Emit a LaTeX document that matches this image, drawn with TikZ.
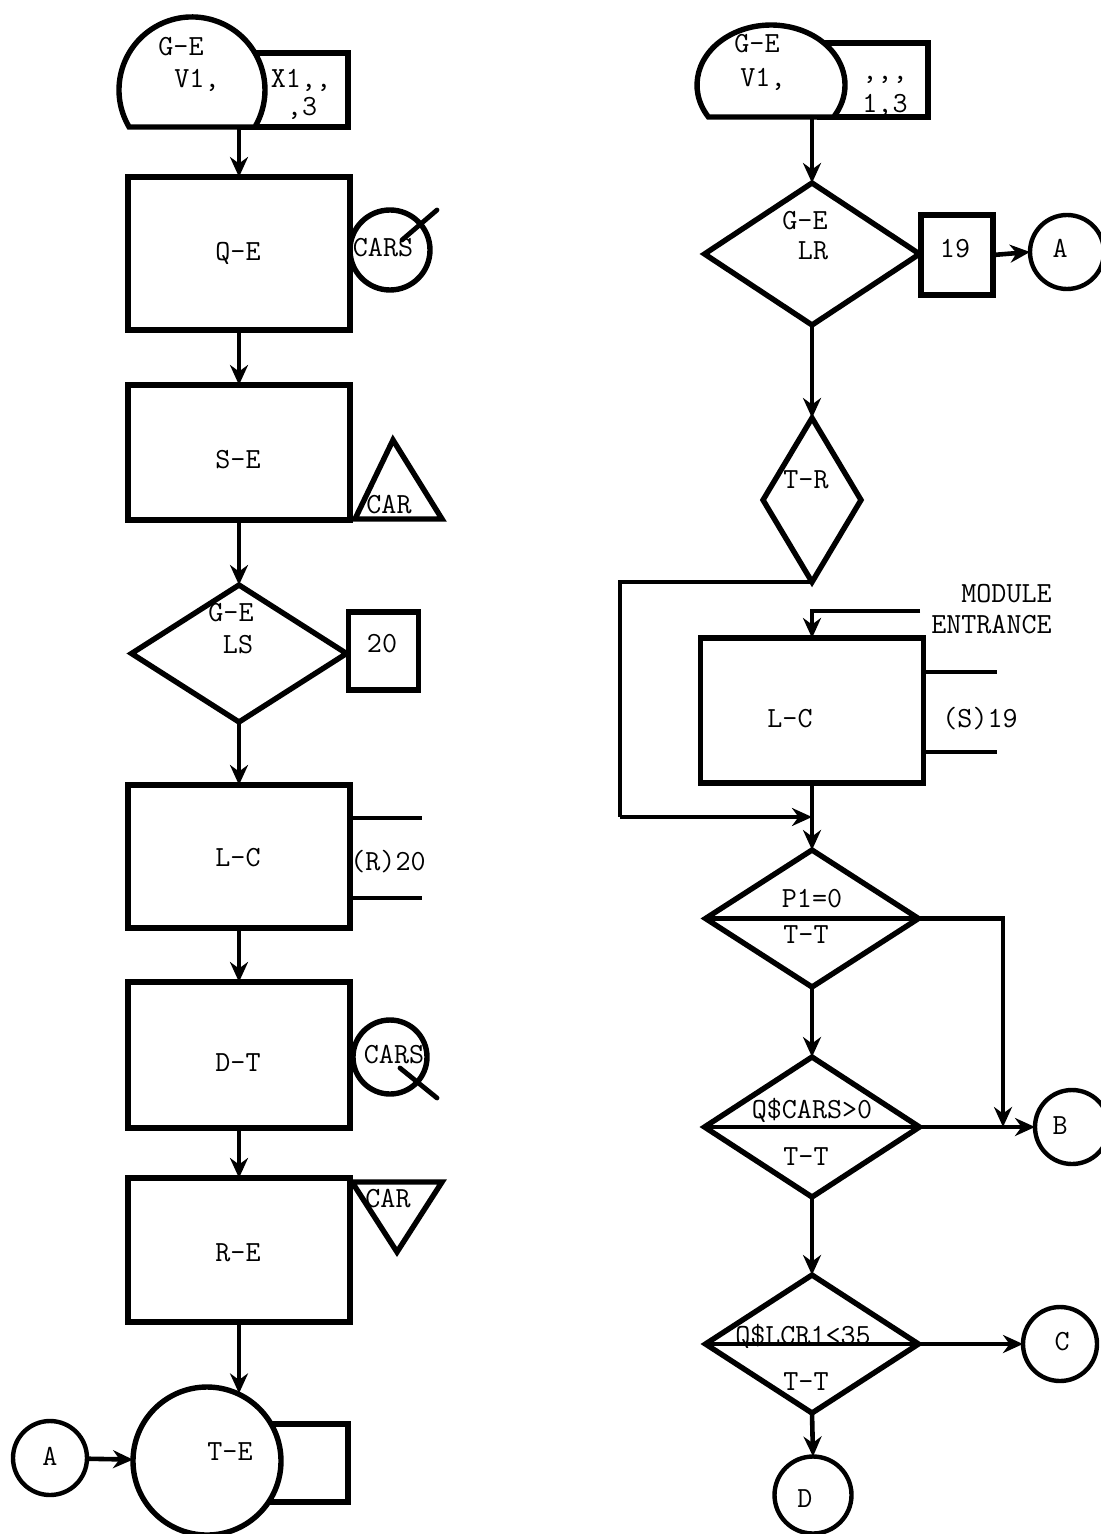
\documentclass[tikz,border=0pt]{standalone}
\usepackage{fontspec}
\newfontfamily\tw{Latin Modern Mono}
\usetikzlibrary{shapes.geometric,arrows.meta}
\begin{document}
\begin{tikzpicture}[x=0.5pt,y=-0.5pt,
  shp/.style={draw, line width=2.7pt, inner sep=0pt, outer sep=0pt},
  boxn/.style={shp, rectangle, fill=white},
  dia/.style={shp, diamond},
  circ/.style={shp, circle, fill=white},
  conn/.style={line width=2.3pt, -{Stealth[length=10pt,width=9pt]}},
  stub/.style={line width=2.4pt},
  lbl/.style={font=\tw\fontsize{14.6}{16}\selectfont, inner sep=0pt, anchor=base}]
\useasboundingbox (0,0) rectangle (1100,1534);

% ---------------- left column ----------------
\node[boxn, minimum width=54pt, minimum height=37pt] (g1box) at (294,90) {};
\draw[shp, fill=white] (129.1,127) arc[start angle=149.5, end angle=390.5, radius=73] -- cycle;
\coordinate (g1out) at (239,127);
\node[lbl] (g1a) at (181,56) {G-E};
\node[lbl] (g1b) at (197,88) {V1,};
\node[lbl] (g1c) at (301,88) {X1,,};
\node[lbl] (g1d) at (302,116) {,3};

\node[boxn, minimum width=111pt, minimum height=76.5pt] (QE) at (239,253.5) {};
\node[lbl] (QEt) at (238,261) {Q-E};
\node[circ, minimum size=40pt, fill=none] (cars1) at (390,250) {};
\draw[stub, line cap=round] (402,240) -- (437,210);
\node[lbl] (cars1t) at (383,257) {CARS};

\node[boxn, minimum width=111pt, minimum height=67.5pt] (SE) at (239,452.5) {};
\node[lbl] (SEt) at (238,468) {S-E};
\draw[shp] (393,440) -- (355,519) -- (442,519) -- cycle;
\node[lbl] (car1t) at (389,513) {CAR};

\node[dia, minimum width=107.5pt, minimum height=68.5pt] (LS) at (239,653.5) {};
\node[lbl] (LSa) at (231,621) {G-E};
\node[lbl] (LSb) at (238,653) {LS};
\node[boxn, minimum width=35pt, minimum height=39pt] (b20) at (383.5,651) {};
\node[lbl] (b20t) at (382,652) {20};

\node[boxn, minimum width=111pt, minimum height=71.5pt] (LC1) at (239,856.5) {};
\node[lbl] (LC1t) at (238,866) {L-C};
\draw[stub] (LC1.east |- 0,818) -- (422,818);
\draw[stub] (LC1.east |- 0,898) -- (422,898);
\node[lbl] (r20) at (388,870) {(R)20};

\node[boxn, minimum width=111pt, minimum height=73pt] (DT) at (239,1055) {};
\node[lbl] (DTt) at (238,1071) {D-T};
\node[circ, minimum size=37pt, fill=none] (cars2) at (390,1057) {};
\draw[stub, line cap=round] (400,1068) -- (437,1098);
\node[lbl] (cars2t) at (394,1063) {CARS};

\node[boxn, minimum width=111pt, minimum height=72pt] (RE) at (239,1250) {};
\node[lbl] (REt) at (238,1261) {R-E};
\draw[shp] (352,1182) -- (442,1182) -- (397,1252) -- cycle;
\node[lbl] (car2t) at (388,1207) {CAR};

\node[boxn, minimum width=45pt, minimum height=39pt] (tebox) at (303,1463) {};
\node[circ, minimum size=74pt] (TE) at (207,1461) {};
\node[lbl] (TEt) at (230,1460) {T-E};
\node[circ, minimum size=37pt, line width=2.2pt] (Al) at (50,1458) {};
\node[lbl] (Alt) at (50,1465) {A};

\draw[conn] (g1out) -- (QE.north);
\draw[conn] (QE.south) -- (SE.north);
\draw[conn] (SE.south) -- (LS.north);
\draw[conn] (LS.south) -- (LC1.north);
\draw[conn] (LC1.south) -- (DT.north);
\draw[conn] (DT.south) -- (RE.north);
\draw[conn] (RE.south) -- (RE.south |- TE.66);
\draw[conn] (Al) -- (TE);

% ---------------- right column ----------------
\node[boxn, minimum width=54pt, minimum height=37pt] (g2box) at (874,80) {};
\draw[shp, fill=white] (708.4,117) arc[start angle=147.8, end angle=392.2, x radius=74, y radius=60] -- cycle;
\coordinate (g2out) at (812,117);
\node[lbl] (g2a) at (757,53) {G-E};
\node[lbl] (g2b) at (763,87) {V1,};
\node[lbl] (g2c) at (885,80) {,,,};
\node[lbl] (g2d) at (885,113) {1,3};

\node[dia, minimum width=107.5pt, minimum height=71pt] (LR) at (812,254) {};
\node[lbl] (LRa) at (805,230) {G-E};
\node[lbl] (LRb) at (813,260) {LR};
\node[boxn, minimum width=36pt, minimum height=40pt] (b19) at (957,255) {};
\node[lbl] (b19t) at (955,258) {19};
\node[circ, minimum size=37pt, line width=2.2pt] (Ar) at (1067,252) {};
\node[lbl] (Art) at (1060,258) {A};

\node[dia, minimum width=49pt, minimum height=82pt] (TR) at (812,500) {};
\node[lbl] (TRt) at (806,488) {T-R};

\node[lbl, anchor=base east] (mod1) at (1052,602) {MODULE};
\node[lbl, anchor=base east] (mod2) at (1052,633) {ENTRANCE};
\coordinate (me) at (920,611);

\node[boxn, minimum width=111.5pt, minimum height=72.5pt] (LC2) at (812,710.5) {};
\node[lbl] (LC2t) at (790,727) {L-C};
\draw[stub] (LC2.east |- 0,672) -- (997,672);
\draw[stub] (LC2.east |- 0,752) -- (997,752);
\node[lbl] (s19) at (980,727) {(S)19};

\coordinate (byL) at (620,817);
\coordinate (j1) at (812,817);

\node[dia, minimum width=106.5pt, minimum height=68.5pt] (P1) at (812,918.5) {};
\node[lbl] (P1a) at (812,907) {P1=0};
\node[lbl] (P1b) at (806,943) {T-T};

\node[dia, minimum width=107.5pt, minimum height=70pt] (CA) at (812,1127) {};
\node[lbl] (CAa) at (812,1118) {Q\$CARS>0};
\node[lbl] (CAb) at (806,1165) {T-T};
\node[circ, minimum size=37pt, line width=2.2pt] (B) at (1072,1127) {};
\node[lbl] (Bt) at (1060,1134) {B};
\coordinate (jB) at (1003,1127);

\node[dia, minimum width=106.5pt, minimum height=69pt] (LCR) at (812,1344) {};
\node[lbl] (LCRa) at (803,1344) {Q\$LCR1<35};
\node[lbl] (LCRb) at (806,1390) {T-T};
\node[circ, minimum size=37pt, line width=2.2pt] (C) at (1060,1344) {};
\node[lbl] (Ct) at (1062,1350) {C};
\node[circ, minimum size=38.5pt, line width=2.2pt] (D) at (813,1495) {};
\node[lbl] (Dt) at (805,1507) {D};

\draw[stub] (P1.west) -- (P1.east);
\draw[stub] (CA.west) -- (CA.east);
\draw[stub] (LCR.west) -- (LCR.east);

\draw[conn] (g2out) -- (LR.north);
\draw[stub] (LR.east) -- (b19.west);
\draw[conn] (b19.east) -- (Ar.west);
\draw[conn] (LR.south) -- (TR.north);
\draw[stub] (TR.south) -| (byL);
\draw[conn] (byL) -- (j1);
\draw[conn] (me) -| (LC2.north);
\draw[conn] (LC2.south) -- (P1.north);
\draw[conn] (P1.east) -| (jB);
\draw[conn] (P1.south) -- (CA.north);
\draw[conn] (CA.east) -- (B.west);
\draw[conn] (CA.south) -- (LCR.north);
\draw[conn] (LCR.east) -- (C.west);
\draw[conn] (LCR.south) -- (D.north);
\end{tikzpicture}
\end{document}
